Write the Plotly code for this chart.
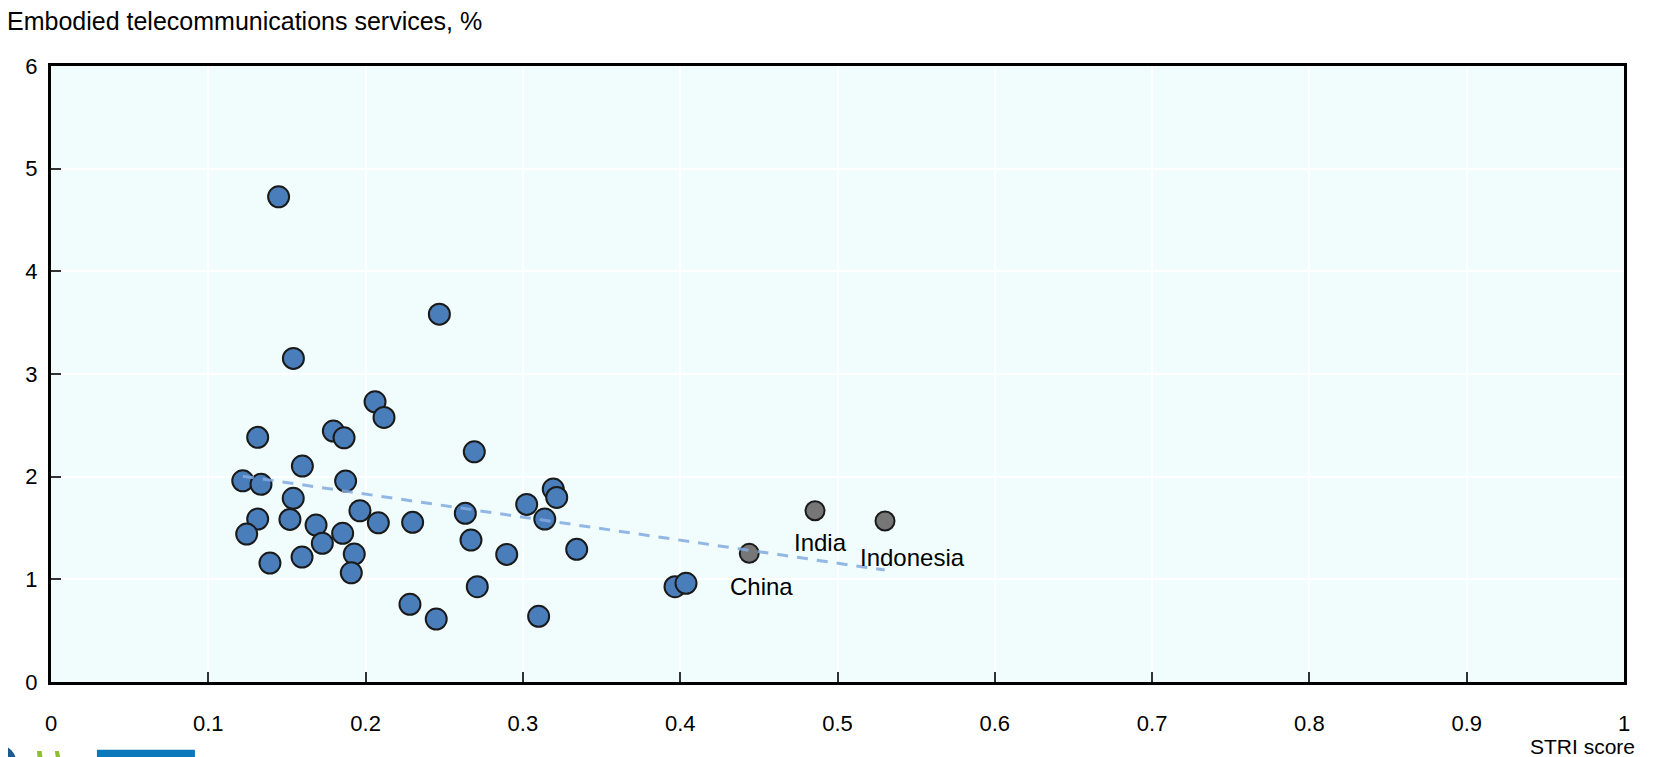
import plotly.graph_objects as go

# ---- data ----
stri_oecd = [0.2060, 0.2117, 0.1314, 0.1795, 0.1863, 0.2691, 0.1598, 0.1219, 0.1335, 0.1873,
             0.1540, 0.3193, 0.3215, 0.1964, 0.2634, 0.3024, 0.1314, 0.1519, 0.1685, 0.2081,
             0.2299, 0.3139, 0.1244, 0.1854, 0.1725, 0.2670, 0.1928, 0.2897, 0.3342, 0.1392,
             0.1596, 0.1909, 0.2710, 0.2282, 0.2449, 0.3100, 0.3967, 0.4037, 0.1447, 0.2469,
             0.1541]
telecom_oecd = [2.729, 2.577, 2.383, 2.444, 2.379, 2.242, 2.103, 1.960, 1.925, 1.957,
                1.789, 1.879, 1.798, 1.668, 1.643, 1.730, 1.587, 1.584, 1.529, 1.551,
                1.555, 1.587, 1.441, 1.448, 1.351, 1.383, 1.246, 1.243, 1.292, 1.159,
                1.217, 1.064, 0.928, 0.757, 0.613, 0.640, 0.928, 0.961, 4.726, 3.583,
                3.152]

partner_names = ["India", "Indonesia", "China"]
stri_partner = [0.4857, 0.5302, 0.4439]
telecom_partner = [1.668, 1.568, 1.253]
label_shift_x = [5, 27, 12]
label_shift_y = [-32, -36, -33]

trend_x = [0.122, 0.530]
trend_y = [2.005, 1.090]

x_ticks = [0, 0.1, 0.2, 0.3, 0.4, 0.5, 0.6, 0.7, 0.8, 0.9, 1]
x_tick_labels = ["0", "0.1", "0.2", "0.3", "0.4", "0.5", "0.6", "0.7", "0.8", "0.9", "1"]
y_ticks = [0, 1, 2, 3, 4, 5, 6]
y_tick_labels = ["0", "1", "2", "3", "4", "5", "6"]

y_title = "Embodied telecommunications services, %"
x_title = "STRI score"

FONT = "Liberation Sans, Arial, sans-serif"

fig = go.Figure()

fig.add_trace(go.Scatter(
    x=stri_oecd, y=telecom_oecd, mode="markers",
    marker=dict(size=21, color="#4A7EBB", line=dict(color="#1A1A1A", width=2)),
    showlegend=False, hoverinfo="skip"))

fig.add_trace(go.Scatter(
    x=stri_partner, y=telecom_partner, mode="markers",
    marker=dict(size=19, color="#777777", line=dict(color="#1A1A1A", width=2)),
    showlegend=False, hoverinfo="skip"))

fig.add_trace(go.Scatter(
    x=trend_x, y=trend_y, mode="lines",
    line=dict(color="rgba(130,170,225,0.85)", width=3, dash="11px,9px"),
    showlegend=False, hoverinfo="skip"))

for name, xv, yv, sx, sy in zip(partner_names, stri_partner, telecom_partner,
                                label_shift_x, label_shift_y):
    fig.add_annotation(x=xv, y=yv, text=name, showarrow=False,
                       xshift=sx, yshift=sy, xanchor="center", yanchor="middle",
                       font=dict(family=FONT, size=24, color="black"))

fig.add_annotation(xref="paper", yref="paper", x=-0.0292, y=1.073, text=y_title,
                   showarrow=False, xanchor="left", yanchor="middle",
                   font=dict(family=FONT, size=25, color="black"))
fig.add_annotation(xref="paper", yref="paper", x=1.0085, y=-0.1045, text=x_title,
                   showarrow=False, xanchor="right", yanchor="middle",
                   font=dict(family=FONT, size=21, color="black"))

# partial logo at the bottom-left corner
fig.add_shape(type="rect", xref="paper", yref="paper",
              x0=0.0292, x1=0.0915, y0=-0.110, y1=-0.14,
              fillcolor="#0A78BA", line=dict(width=0), layer="above")
fig.add_shape(type="circle", xref="paper", yref="paper",
              x0=-0.045, x1=-0.022, y0=-0.102, y1=-0.16,
              fillcolor="#1D5B8F", line=dict(width=0), layer="above")
fig.add_shape(type="path", xref="paper", yref="paper",
              path="M -0.0089,-0.112 L -0.0060,-0.112 L -0.0045,-0.14 L -0.0080,-0.14 Z",
              fillcolor="#8DBF2E", line=dict(width=0), layer="above")
fig.add_shape(type="path", xref="paper", yref="paper",
              path="M 0.0025,-0.112 L 0.0050,-0.112 L 0.0075,-0.14 L 0.0040,-0.14 Z",
              fillcolor="#8DBF2E", line=dict(width=0), layer="above")

axis_common = dict(
    showline=True, linecolor="black", linewidth=3, mirror=True,
    showgrid=True, gridcolor="white", gridwidth=2,
    zeroline=False, ticks="inside", ticklen=10, tickwidth=2, tickcolor="#333333",
    tickfont=dict(family=FONT, size=22, color="black"),
)

fig.update_xaxes(range=[0, 1], tickvals=x_ticks, ticktext=x_tick_labels,
                 ticklabelstandoff=20, **axis_common)
fig.update_yaxes(range=[0, 6], tickvals=y_ticks, ticktext=y_tick_labels,
                 ticklabelstandoff=6, **axis_common)

# the page body adds an 8px margin, so the figure is sized to fit the window
fig.update_layout(
    width=1648, height=749,
    margin=dict(l=43, r=32, t=58, b=75, autoexpand=False),
    plot_bgcolor="#F1FDFD", paper_bgcolor="white",
    font=dict(family=FONT, size=22, color="black"),
)

fig.write_html("out.html")
